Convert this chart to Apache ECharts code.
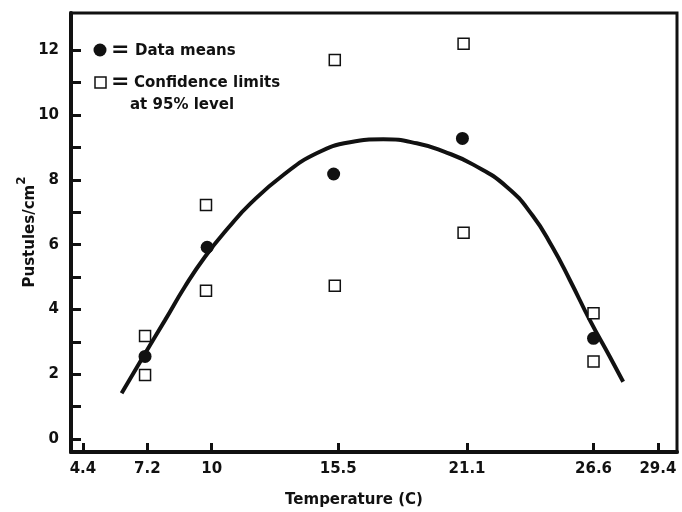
<!DOCTYPE html>
<html><head><meta charset="utf-8">
<script src="https://cdn.jsdelivr.net/npm/echarts@6/dist/echarts.min.js"></script>
<style>html,body{margin:0;padding:0;background:#fff}#c{width:682px;height:512px}</style>
</head><body><div id="c"></div>
<script>
const xTicks = [4.4, 7.2, 10, 15.5, 21.1, 26.6, 29.4];
const yLabels = [0, 2, 4, 6, 8, 10, 12];
const yMinor = [0,1,2,3,4,5,6,7,8,9,10,11,12];
const meanX = [7.1, 9.8, 15.3, 20.9, 26.6];
const meanY = [2.55, 5.92, 8.18, 9.28, 3.11];
const limX = [7.1, 9.75, 15.35, 20.95, 26.6];
const upperY = [3.18, 7.22, 11.7, 12.2, 3.88];
const lowerY = [1.98, 4.58, 4.73, 6.37, 2.39];
const curveX = [6.08, 7.1, 7.97, 8.83, 9.7, 10.72, 11.7, 13.11, 14.56, 16.01, 17.46, 18.91, 20.1, 21.37, 22.82, 23.95, 24.8, 25.57, 26.44, 27.31, 27.89];
const curveY = [1.41, 2.64, 3.67, 4.70, 5.62, 6.52, 7.28, 8.15, 8.82, 9.16, 9.25, 9.13, 8.87, 8.47, 7.79, 6.9, 5.94, 4.91, 3.67, 2.54, 1.77];

const zip = (a, b) => a.map((v, i) => [v, b[i]]);
const limits = zip(limX, upperY).concat(zip(limX, lowerY));
const FONT = 'DejaVu Sans';
const INK = '#111';

const chart = echarts.init(document.getElementById('c'));
chart.setOption({
  backgroundColor: '#fff',
  animation: false,
  grid: { left: 71, right: 5, top: 13, bottom: 60, show: true, borderColor: INK, borderWidth: 3, backgroundColor: 'transparent' },
  xAxis: {
    type: 'value', min: 3.88, max: 30.23,
    splitLine: { show: false },
    axisLine: { onZero: false, lineStyle: { color: INK, width: 4 } },
    axisTick: { inside: true, length: 9, lineStyle: { color: INK, width: 3 }, customValues: xTicks },
    axisLabel: { customValues: xTicks, color: INK, fontFamily: FONT, fontWeight: 'bold', fontSize: 15, margin: 10 }
  },
  yAxis: {
    type: 'value', min: -0.4, max: 13.15,
    splitLine: { show: false },
    axisLine: { onZero: false, lineStyle: { color: INK, width: 4 } },
    axisTick: { inside: true, length: 10, lineStyle: { color: INK, width: 3 }, customValues: yMinor },
    axisLabel: { customValues: yLabels, color: INK, fontFamily: FONT, fontWeight: 'bold', fontSize: 15, margin: 12 }
  },
  series: [
    { type: 'line', data: zip(curveX, curveY), smooth: 0.5, symbol: 'none', lineStyle: { color: INK, width: 4 }, z: 2 },
    { type: 'scatter', data: limits, symbol: 'rect', symbolSize: 11, itemStyle: { color: '#fff', borderColor: INK, borderWidth: 1.5, opacity: 1 }, z: 3 },
    { type: 'scatter', data: zip(meanX, meanY), symbol: 'circle', symbolSize: 13, itemStyle: { color: INK, opacity: 1 }, z: 4 }
  ],
  graphic: [
    { type: 'circle', shape: { cx: 100, cy: 50, r: 6.5 }, style: { fill: INK } },
    { type: 'text', x: 111, y: 50, style: { text: '=', fill: INK, font: 'bold 22px DejaVu Sans', verticalAlign: 'middle' } },
    { type: 'text', x: 135, y: 51, style: { text: 'Data means', fill: INK, font: 'bold 15px DejaVu Sans', verticalAlign: 'middle' } },
    { type: 'rect', shape: { x: 95, y: 77, width: 11, height: 11 }, style: { fill: '#fff', stroke: INK, lineWidth: 1.5 } },
    { type: 'text', x: 111, y: 82, style: { text: '=', fill: INK, font: 'bold 22px DejaVu Sans', verticalAlign: 'middle' } },
    { type: 'text', x: 134, y: 83, style: { text: 'Confidence limits', fill: INK, font: 'bold 15px DejaVu Sans', verticalAlign: 'middle' } },
    { type: 'text', x: 130, y: 105, style: { text: 'at 95% level', fill: INK, font: 'bold 15px DejaVu Sans', verticalAlign: 'middle' } },
    { type: 'text', x: 354, y: 500, style: { text: 'Temperature (C)', fill: INK, font: 'bold 15px DejaVu Sans', align: 'center', verticalAlign: 'middle' } },
    { type: 'text', x: 27, y: 232, rotation: Math.PI / 2, style: {
        text: '{b|Pustules/cm}{s|2}', align: 'center', verticalAlign: 'middle',
        rich: {
          b: { fill: INK, fontFamily: FONT, fontWeight: 'bold', fontSize: 15, verticalAlign: 'bottom', lineHeight: 22 },
          s: { fill: INK, fontFamily: FONT, fontWeight: 'bold', fontSize: 12, verticalAlign: 'top', lineHeight: 22 }
        } } }
  ]
});
</script></body></html>
